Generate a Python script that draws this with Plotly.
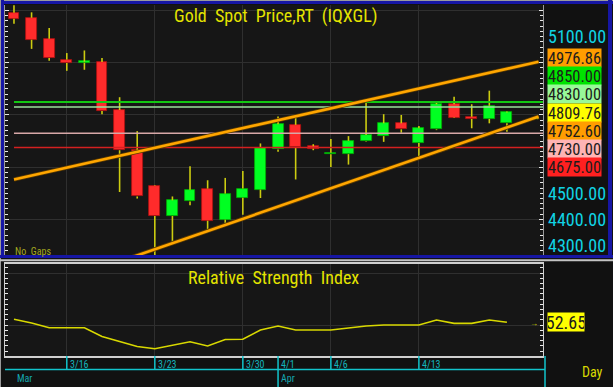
import plotly.graph_objects as go

# ---------------- data ----------------
DATES = ['3/11', '3/12', '3/13', '3/16', '3/17', '3/18', '3/19', '3/20', '3/23', '3/24',
         '3/25', '3/26', '3/27', '3/30', '3/31', '4/1', '4/2', '4/3', '4/6', '4/7',
         '4/8', '4/9', '4/10', '4/13', '4/14', '4/15', '4/16', '4/17', '4/20']
OPEN = [5191, 5172, 5092, 5012, 5000, 5003, 4819, 4665, 4528, 4413,
        4469, 4518, 4399, 4483, 4514, 4668, 4762, 4680, 4650, 4650,
        4700, 4719, 4768, 4693, 4745, 4841, 4793, 4785, 4768]
HIGH = [5220, 5193, 5133, 5037, 5047, 5018, 4868, 4738, 4530, 4488,
        4604, 4550, 4559, 4585, 4691, 4794, 4800, 4688, 4708, 4719,
        4851, 4803, 4800, 4758, 4851, 4870, 4841, 4893, 4813]
LOW = [5149, 5053, 5008, 4969, 4973, 4803, 4505, 4480, 4259, 4313,
       4454, 4358, 4383, 4418, 4482, 4659, 4553, 4665, 4601, 4610,
       4698, 4697, 4732, 4640, 4742, 4788, 4749, 4768, 4736]
CLOSE = [5168, 5088, 5018, 4999, 5004, 4815, 4665, 4488, 4413, 4473,
         4514, 4395, 4499, 4518, 4674, 4764, 4676, 4671, 4655, 4701,
         4723, 4768, 4745, 4749, 4841, 4790, 4785, 4835, 4809.76]
RSI = [55.5, 51.9, 47.4, 47.4, 47.4, 38.9, 34.1, 29.3, 27.2, 30.8,
       33.9, 29.8, 36.1, 36.3, 45.2, 49.0, 45.2, 45.2, 45.2, 47.1,
       49.0, 50.0, 50.0, 50.0, 54.8, 51.6, 51.6, 54.8, 52.65]

# horizontal price levels
LEVELS = [4850, 4830, 4730, 4675]
LEVEL_COLORS = ['#12c812', '#9ee09e', '#d8a8a8', '#d42020']
LEVEL_WIDTHS = [2, 1.5, 1.5, 1.5]
# trend lines (x index, price)
UPPER_X = [0, 29.8]
UPPER_Y = [4553, 5004]
LOWER_X = [6.6, 29.8]
LOWER_Y = [4253, 4794]

# right-hand labels
AXIS_LABEL_VALUES = [5100, 4500, 4400, 4300]
BOX_LABELS = ['4976.86', '4850.00', '4830.00', '4809.76', '4752.60', '4730.00', '4675.00']
BOX_COLORS = ['#ff9d00', '#00e400', '#98f898', '#ffff00', '#ff9d00', '#ffb4b4', '#ff2020']
RSI_LAST = '52.65'

GRID_IDX = [3, 8, 13, 18, 23]             # Mondays
DATE_TICK_IDX = [3, 8, 13, 15, 18, 23]
DATE_TICK_TEXT = ['3/16', '3/23', '3/30', '4/1', '4/6', '4/13']
MONTH_IDX = [0, 15]
MONTH_TEXT = ['Mar', 'Apr']

# ---------------- helpers ----------------
W, H = 613, 387
def px(x):
    return x / W
def py(y):
    return 1 - y / H

NARROW = 'Liberation Sans Narrow, Arial Narrow, Roboto Condensed, Liberation Sans, sans-serif'
N = len(DATES)
idx = list(range(N))

fig = go.Figure()

# wicks (split so bodies are not overdrawn)
wx, wy = [], []
for i in idx:
    top = max(OPEN[i], CLOSE[i])
    bot = min(OPEN[i], CLOSE[i])
    if HIGH[i] > top:
        wx += [i, i, None]; wy += [top, HIGH[i], None]
    if LOW[i] < bot:
        wx += [i, i, None]; wy += [bot, LOW[i], None]
fig.add_trace(go.Scatter(x=wx, y=wy, mode='lines', line=dict(color='#cccc10', width=1.6),
                         hoverinfo='skip', showlegend=False, xaxis='x', yaxis='y'))

# bodies
MINH = 6
base, height, colors, lcolors = [], [], [], []
for i in idx:
    lo = min(OPEN[i], CLOSE[i]); hi = max(OPEN[i], CLOSE[i])
    h = hi - lo
    if h < MINH:
        lo = (lo + hi) / 2 - MINH / 2
        h = MINH
    base.append(lo); height.append(h)
    up = CLOSE[i] >= OPEN[i]
    colors.append('#00ff22' if up else '#ff2b2b')
    lcolors.append('#00b000' if up else '#b01010')
fig.add_trace(go.Bar(x=idx, y=height, base=base, width=0.62,
                     marker=dict(color=colors, line=dict(color=lcolors, width=0.8)),
                     hoverinfo='skip', showlegend=False, xaxis='x', yaxis='y'))

# level lines
for lv, c, w in zip(LEVELS, LEVEL_COLORS, LEVEL_WIDTHS):
    fig.add_trace(go.Scatter(x=[0, 30.1], y=[lv, lv], mode='lines',
                             line=dict(color=c, width=w), hoverinfo='skip',
                             showlegend=False, xaxis='x', yaxis='y'))

# trend lines
for tx, ty in [(UPPER_X, UPPER_Y), (LOWER_X, LOWER_Y)]:
    fig.add_trace(go.Scatter(x=tx, y=ty, mode='lines', line=dict(color='#5a3a00', width=4.2),
                             hoverinfo='skip', showlegend=False, xaxis='x', yaxis='y'))
    fig.add_trace(go.Scatter(x=tx, y=ty, mode='lines', line=dict(color='#ffa600', width=2.6),
                             hoverinfo='skip', showlegend=False, xaxis='x', yaxis='y'))

# RSI line
fig.add_trace(go.Scatter(x=idx, y=RSI, mode='lines', line=dict(color='#d8d800', width=1.6),
                         hoverinfo='skip', showlegend=False, xaxis='x2', yaxis='y2'))

# ---------------- layout ----------------
XR = [-0.51, 30.05]
grid = '#2f2f2f'
layout = dict(
    width=W, height=H, margin=dict(l=0, r=0, t=0, b=0),
    paper_bgcolor='#111111', plot_bgcolor='#161616',
    showlegend=False, bargap=0,
    xaxis=dict(domain=[px(5), px(543)], range=XR, tickmode='array', tickvals=GRID_IDX,
               showticklabels=False, ticks='', showgrid=True, gridcolor=grid, gridwidth=1,
               zeroline=False, showline=False, fixedrange=True),
    yaxis=dict(domain=[py(256), py(5)], range=[4260, 5221], tick0=4400, dtick=200,
               showgrid=True, gridcolor=grid, gridwidth=1.3, zeroline=False,
               showticklabels=False, ticks='inside', ticklen=4, tickcolor='#e8e8e8',
               minor=dict(ticks='inside', dtick=20, tick0=4400, ticklen=3, tickcolor='#e8e8e8'),
               showline=True, linecolor='#9a9a9a', linewidth=1, mirror='allticks'),
    xaxis2=dict(domain=[px(5), px(543)], range=XR, tickmode='array', tickvals=GRID_IDX,
                showticklabels=False, ticks='', showgrid=True, gridcolor=grid,
                zeroline=False, showline=True, linecolor='#d0d0d0', linewidth=1.5,
                mirror=True, anchor='y2', fixedrange=True),
    yaxis2=dict(domain=[py(356), py(264)], range=[20.19, 108.65], tick0=0, dtick=50,
                showgrid=True, gridcolor=grid, gridwidth=1.3, zeroline=False,
                showticklabels=False, ticks='inside', ticklen=3, tickcolor='#e8e8e8',
                minor=dict(ticks='inside', dtick=5, ticklen=3, tickcolor='#e8e8e8'),
                showline=True, linecolor='#d0d0d0', linewidth=1, mirror='allticks',
                anchor='x2'),
)

shapes = []
BLUE = '#1616a4'
# frame pieces
shapes.append(dict(type='rect', xref='paper', yref='paper', x0=0, x1=1, y0=py(4), y1=1,
                   fillcolor=BLUE, line=dict(width=0), layer='above'))
shapes.append(dict(type='rect', xref='paper', yref='paper', x0=0, x1=1, y0=py(1), y1=1,
                   fillcolor='#9a9a9a', line=dict(width=0), layer='above'))
shapes.append(dict(type='rect', xref='paper', yref='paper', x0=0, x1=px(4), y0=py(258), y1=1,
                   fillcolor=BLUE, line=dict(width=0), layer='above'))
shapes.append(dict(type='rect', xref='paper', yref='paper', x0=0, x1=px(1), y0=0, y1=1,
                   fillcolor='#9a9a9a', line=dict(width=0), layer='above'))
shapes.append(dict(type='rect', xref='paper', yref='paper', x0=px(608), x1=px(612), y0=py(258), y1=1,
                   fillcolor=BLUE, line=dict(width=0), layer='above'))
shapes.append(dict(type='rect', xref='paper', yref='paper', x0=0, x1=1, y0=py(258), y1=py(255),
                   fillcolor=BLUE, line=dict(width=0), layer='above'))
shapes.append(dict(type='rect', xref='paper', yref='paper', x0=0, x1=1, y0=py(261.3), y1=py(259.3),
                   fillcolor='#c4c4c4', line=dict(width=0), layer='above'))
# date axis
CYAN = '#12c4cc'
shapes.append(dict(type='line', xref='paper', yref='paper', x0=px(5), x1=px(545),
                   y0=py(369.5), y1=py(369.5), line=dict(color=CYAN, width=1.5)))
shapes.append(dict(type='line', xref='paper', yref='paper', x0=px(545), x1=px(545),
                   y0=py(356), y1=0, line=dict(color=CYAN, width=1.5)))
for t in DATE_TICK_IDX:
    shapes.append(dict(type='line', xref='x2', yref='paper', x0=t, x1=t,
                       y0=py(356), y1=py(369.5), line=dict(color=CYAN, width=1.5)))
for t in MONTH_IDX[1:]:
    shapes.append(dict(type='line', xref='x2', yref='paper', x0=t, x1=t,
                       y0=py(369.5), y1=0, line=dict(color=CYAN, width=1.5)))
layout['shapes'] = shapes

ann = []
YEL = '#e4e400'
ann.append(dict(text='Gold  Spot  Price,RT  (IQXGL)', xref='paper', yref='paper',
                x=px(275), y=py(16), xanchor='center', yanchor='middle', showarrow=False,
                font=dict(family=NARROW, size=18, color=YEL)))
ann.append(dict(text='Relative  Strength  Index', xref='paper', yref='paper',
                x=px(273), y=py(277), xanchor='center', yanchor='middle', showarrow=False,
                font=dict(family=NARROW, size=18, color=YEL)))
ann.append(dict(text='No  Gaps', xref='paper', yref='paper', x=px(13), y=py(251),
                xanchor='left', yanchor='middle', showarrow=False,
                font=dict(family=NARROW, size=10, color='#a4a820')))
ann.append(dict(text='Day', xref='paper', yref='paper', x=px(592), y=py(372),
                xanchor='center', yanchor='middle', showarrow=False,
                font=dict(family=NARROW, size=14, color='#d8d800')))
for v in AXIS_LABEL_VALUES:
    ann.append(dict(text=f'{v:.2f}', xref='paper', yref='y', x=px(546), y=v,
                    xanchor='left', yanchor='middle', showarrow=False,
                    font=dict(family=NARROW, size=18, color='#10d4e4')))
for k, (t, c) in enumerate(zip(BOX_LABELS, BOX_COLORS)):
    top = 48.3 + 18.1 * k
    ann.append(dict(text=t, xref='paper', yref='paper', x=px(546.7), y=py(top),
                    xanchor='left', yanchor='top', showarrow=False, bgcolor=c,
                    width=53, height=18, borderpad=0, align='center', valign='middle',
                    font=dict(family=NARROW, size=16.5, color='#1c1c1c')))
ann.append(dict(text=RSI_LAST, xref='paper', yref='y2', x=px(547), y=float(RSI_LAST),
                xanchor='left', yanchor='middle', showarrow=False, bgcolor='#ffff00',
                width=36, height=18, borderpad=0, align='center',
                font=dict(family=NARROW, size=18, color='#1c1c1c')))
ann.append(dict(text='→', xref='paper', yref='y2', x=px(540), y=float(RSI_LAST),
                xanchor='right', yanchor='middle', showarrow=False,
                font=dict(size=8, color='#d8d800')))
ann.append(dict(text='→', xref='paper', yref='y', x=px(542), y=LOWER_Y[-1],
                xanchor='right', yanchor='middle', showarrow=False,
                font=dict(size=8, color='#d8d800')))
for t, s in zip(DATE_TICK_IDX, DATE_TICK_TEXT):
    ann.append(dict(text=s, xref='x2', yref='paper', x=t, y=py(364), xshift=1,
                    xanchor='left', yanchor='middle', showarrow=False,
                    font=dict(family=NARROW, size=10, color='#14b4bc')))
for t, s in zip(MONTH_IDX, MONTH_TEXT):
    ann.append(dict(text=s, xref='x2', yref='paper', x=t, y=py(378), xshift=1,
                    xanchor='left', yanchor='middle', showarrow=False,
                    font=dict(family=NARROW, size=10, color='#14a8b0')))
layout['annotations'] = ann

fig.update_layout(**layout)
fig.write_html('out.html', config=dict(displayModeBar=False))
